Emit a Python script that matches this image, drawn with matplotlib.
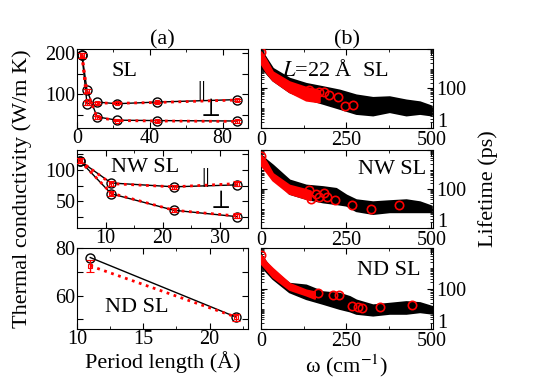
import numpy as np
import matplotlib
matplotlib.use("Agg")
import matplotlib.pyplot as plt
from matplotlib.ticker import FixedLocator, NullFormatter

plt.rcParams['font.family'] = ['Liberation Serif', 'DejaVu Serif']
plt.rcParams['mathtext.fontset'] = 'stix'

# ---- (a) thermal conductivity vs period length ----
sl_L = [2.75, 5.5, 11, 22, 44, 88]
sl_par = [195, 77, 81, 77, 81, 87]
sl_perp = [195, 110, 45, 37, 36, 35]
sl_par_r = [195, 78, 79, 78, 80, 86]
sl_perp_r = [195, 107, 44, 36, 35, 34]
sl_err = [6, 5, 3, 2, 2, 3]

nw_L = [5.5, 11, 22, 33]
nw_par = [114, 79, 73, 76]
nw_perp = [114, 62, 36, 26]
nw_par_r = [114, 78, 73, 78]
nw_perp_r = [114, 63, 36, 27]
nw_err = [4, 4, 3, 4]

nd_L = [11, 22]
nd_k = [76, 51]
nd_k_r = [72.5, 51]
nd_err = [2.5, 1.5]

# ---- (b) lifetime vs frequency: envelope of black cloud, red circles ----
sl_w = [0, 15, 34, 83, 132, 181, 230, 279, 328, 377, 426, 466, 500]
sl_hi = [8900, 3400, 1050, 330, 180, 123, 83, 47, 35, 38, 26, 21, 13]
sl_lo = [1260, 630, 270, 69, 32, 18, 10, 5.5, 4.6, 6.8, 4.6, 5.5, 4.6]
sl_rw = [0, 15, 34, 83, 132, 171]
sl_rhi = [7200, 2750, 700, 220, 115, 78]
sl_rlo = [1860, 700, 270, 69, 26, 21]
sl_cw = [0, 142, 156, 171, 186, 201, 225, 248, 269]
sl_ct = [7300, 83, 62, 69, 69, 47, 36, 13, 14.5]

nw_w = [0, 15, 34, 83, 132, 181, 220, 250, 279, 328, 377, 426, 466, 500]
nw_hi = [5500, 3160, 1700, 290, 158, 132, 107, 49, 28, 22, 25, 28, 22, 13.5]
nw_lo = [2000, 1000, 430, 60, 33, 22, 18, 15, 7.8, 5.6, 6.9, 6.9, 6.9, 6.9]
nw_rw = [0, 15, 34, 83, 132, 145]
nw_rhi = [5500, 2500, 630, 158, 95, 80]
nw_rlo = [1700, 800, 290, 60, 33, 28]
nw_cw = [0, 142, 147, 162, 171, 186, 193, 218, 268, 324, 404]
nw_ct = [5000, 89, 30, 55, 40, 60, 37, 27, 16, 9.4, 15]

nd_w = [0, 15, 34, 83, 132, 181, 230, 260, 279, 328, 377, 426, 466, 505]
nd_hi = [4470, 2000, 810, 180, 148, 69, 58, 40, 27, 15.5, 18.6, 22.4, 20, 12.6]
nd_lo = [1450, 700, 316, 69, 32, 18.6, 10.5, 7.9, 6, 4.9, 6, 6, 7.2, 6]
nd_rw = [0, 15, 34, 83, 132, 157]
nd_rhi = [4470, 2000, 980, 180, 85, 69]
nd_rlo = [1740, 900, 380, 91, 48, 33]
nd_cw = [0, 167, 211, 228, 268, 284, 297, 348, 444]
nd_ct = [4400, 58, 48, 48, 14, 12, 10.5, 12.5, 15.4]

fig = plt.figure(figsize=(5.4, 3.78), dpi=100)

rows = [(0.6614, 0.209), (0.3968, 0.2063), (0.1296, 0.2143)]
axL = [fig.add_axes([0.1426, b, 0.3167, h]) for b, h in rows]
axR = [fig.add_axes([0.4833, b, 0.3185, h]) for b, h in rows]

fs = 14.5
tfs = 16
for ax in axL + axR:
    ax.tick_params(direction='in', top=True, right=True, labelsize=fs,
                   length=4, width=0.8, pad=1)
    ax.tick_params(which='minor', direction='in', top=True, right=True,
                   length=2, width=0.6)


def kplot(ax, L, black, red, err):
    ax.plot(L, black, color='black', lw=1.0, marker='o', ms=6.5, mfc='none',
            mew=1.0, zorder=3)
    ax.errorbar(L, red, yerr=err, color='red', ls=':', lw=2.0, marker='s',
                ms=3.5, mfc='none', mew=0.8, capsize=3, elinewidth=1.0,
                zorder=4)


# top-left: SL
ax = axL[0]
kplot(ax, sl_L, sl_par, sl_par_r, sl_err)
kplot(ax, sl_L, sl_perp, sl_perp_r, sl_err)
ax.set_xlim(0, 94)
ax.set_ylim(18, 210)
ax.set_xticks([0, 40, 80])
ax.xaxis.set_minor_locator(FixedLocator([20, 60]))
ax.set_yticks([50, 100, 150, 200])
ax.set_yticklabels(['', '100', '', '200'])
ax.text(0.278, 0.72, 'SL', transform=ax.transAxes, fontsize=tfs,
        ha='center', va='center')
ax.text(68.5, 110, '||', fontsize=tfs, ha='center', va='center')
ax.text(73, 61, r'$\perp$', fontsize=19, ha='center', va='center')
ax.set_title('(a)', fontsize=tfs, pad=3)

# middle-left: NW SL
ax = axL[1]
kplot(ax, nw_L, nw_par, nw_par_r, nw_err)
kplot(ax, nw_L, nw_perp, nw_perp_r, nw_err)
ax.set_xlim(5, 35)
ax.set_ylim(8, 131)
ax.set_xticks([10, 20, 30])
ax.xaxis.set_minor_locator(FixedLocator([15, 25]))
ax.set_yticks([25, 50, 75, 100, 125])
ax.set_yticklabels(['', '50', '', '100', ''])
ax.text(0.40, 0.776, 'NW SL', transform=ax.transAxes, fontsize=tfs,
        ha='center', va='center')
ax.text(27.5, 88, '||', fontsize=tfs, ha='center', va='center')
ax.text(29.9, 49, r'$\perp$', fontsize=19, ha='center', va='center')

# bottom-left: ND SL
ax = axL[2]
kplot(ax, nd_L, nd_k, nd_k_r, nd_err)
ax.set_xlim(10, 22.9)
ax.set_ylim(46, 80)
ax.set_xticks([10, 15, 20])
ax.xaxis.set_minor_locator(FixedLocator([12.5, 17.5, 22.5]))
ax.set_yticks([50, 60, 70, 80])
ax.set_yticklabels(['', '60', '', '80'])
ax.text(0.348, 0.265, 'ND SL', transform=ax.transAxes, fontsize=tfs,
        ha='center', va='center')
ax.set_xlabel('Period length (Å)', fontsize=tfs, labelpad=1)

axL[1].set_ylabel('Thermal conductivity (W/m K)', fontsize=tfs, labelpad=10)


def tplot(ax, w, hi, lo, rw, rhi, rlo, cw, ct):
    ax.fill_between(w, lo, hi, color='black', lw=1.5, edgecolor='black',
                    zorder=2)
    ax.fill_between(rw, rlo, rhi, color='red', lw=1.5, edgecolor='red',
                    zorder=3)
    ax.plot(cw, ct, ls='none', marker='o', ms=6, mfc='none', mec='red',
            mew=1.2, zorder=4)
    ax.set_yscale('log')
    ax.set_xlim(0, 505)
    ax.set_ylim(1, 1e4)
    ax.set_xticks([0, 250, 500])
    ax.xaxis.set_minor_locator(FixedLocator([125, 375]))
    ax.yaxis.set_major_locator(FixedLocator([1, 100, 1e4]))
    ax.yaxis.set_minor_locator(FixedLocator(
        [m * 10 ** e for e in range(4) for m in range(1, 10) if m * 10 ** e not in (1, 100)]))
    ax.yaxis.set_minor_formatter(NullFormatter())
    ax.set_yticklabels(['', '100', ''])
    ax.tick_params(labelleft=False, labelright=True, pad=2)
    # bottom "1" label sits a little above the corner, clear of "500"
    ax.annotate('1', xy=(1, 0), xycoords='axes fraction', xytext=(3, 4),
                textcoords='offset points', ha='left', va='center',
                fontsize=fs)


tplot(axR[0], sl_w, sl_hi, sl_lo, sl_rw, sl_rhi, sl_rlo, sl_cw, sl_ct)
axR[0].text(0.433, 0.734, r'$L$=22 Å  SL', transform=axR[0].transAxes,
            fontsize=tfs, ha='center', va='center')
axR[0].set_title('(b)', fontsize=tfs, pad=3)

tplot(axR[1], nw_w, nw_hi, nw_lo, nw_rw, nw_rhi, nw_rlo, nw_cw, nw_ct)
axR[1].text(0.762, 0.744, 'NW SL', transform=axR[1].transAxes,
            fontsize=tfs, ha='center', va='center')

tplot(axR[2], nd_w, nd_hi, nd_lo, nd_rw, nd_rhi, nd_rlo, nd_cw, nd_ct)
axR[2].text(0.741, 0.72, 'ND SL', transform=axR[2].transAxes,
            fontsize=tfs, ha='center', va='center')
axR[2].set_xlabel(r'ω (cm$^{-1}$)', fontsize=tfs, labelpad=1)

axR[1].yaxis.set_label_position('right')
axR[1].set_ylabel('Lifetime (ps)', fontsize=tfs, labelpad=9)

fig.savefig('out.png', dpi=100)
